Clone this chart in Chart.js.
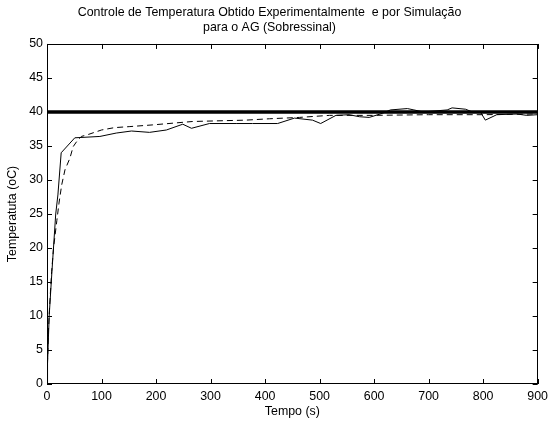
<!DOCTYPE html>
<html>
<head>
<meta charset="utf-8">
<script src="https://cdn.jsdelivr.net/npm/chart.js@4"></script>
<style>
  body { margin: 0; background: #fff; }
  #wrap { width: 553px; height: 425px; }
</style>
</head>
<body>
<div id="wrap"><canvas id="temp-chart"></canvas></div>
<script>
// Experimental (solid)
const expTime = [0, 1, 4, 9, 16, 20, 26, 51, 97, 127, 155, 188, 219, 249, 265, 298, 347, 377, 423, 454, 487, 502, 530, 554, 573, 591, 615, 630, 661, 673, 690, 734, 743, 768, 780, 795, 804, 825, 862, 880, 900];
const expTemp = [0, 3, 10, 16.5, 25, 27.8, 34, 36.2, 36.4, 36.9, 37.2, 37.0, 37.35, 38.2, 37.6, 38.3, 38.3, 38.3, 38.3, 39.1, 38.8, 38.3, 39.5, 39.6, 39.3, 39.2, 39.8, 40.3, 40.5, 40.3, 40.0, 40.3, 40.6, 40.4, 40.0, 40.0, 38.8, 39.6, 39.7, 39.5, 39.6];

// Simulation (dashed)
const simTime = [0, 1, 2.5, 4.5, 8.5, 12, 18, 22, 27, 33, 42, 48, 54, 63, 76, 100, 124, 152, 194, 267, 365, 408, 463, 518, 597, 700, 800, 900];
const simTemp = [0, 3.5, 7.5, 11, 16.5, 20, 24, 26.6, 29.3, 31.5, 33.2, 34.9, 35.6, 36.4, 36.7, 37.35, 37.7, 37.85, 38.1, 38.6, 38.8, 39.0, 39.2, 39.5, 39.5, 39.6, 39.6, 39.7];

// Setpoint
const refTime = [0, 900];
const refTemp = [40, 40];

const toPoints = (xs, ys) => xs.map((x, i) => ({ x, y: ys[i] }));

Chart.defaults.font.family = "'Liberation Sans', Arial, sans-serif";
Chart.defaults.font.size = 12.4;
Chart.defaults.color = '#000';

// moldura e marcas para dentro (estilo MATLAB)
const frame = {
  id: 'frame',
  afterDatasetsDraw(chart) {
    const { ctx, chartArea: a, scales: { x, y } } = chart;
    const len = 5;
    ctx.save();
    ctx.strokeStyle = '#000';
    ctx.lineWidth = 1;
    ctx.beginPath();
    x.ticks.forEach((t) => {
      const px = Math.round(x.getPixelForValue(t.value)) + 0.5;
      ctx.moveTo(px, a.bottom); ctx.lineTo(px, a.bottom - len);
      ctx.moveTo(px, a.top); ctx.lineTo(px, a.top + len);
    });
    y.ticks.forEach((t) => {
      const py = Math.round(y.getPixelForValue(t.value)) + 0.5;
      ctx.moveTo(a.left, py); ctx.lineTo(a.left + len, py);
      ctx.moveTo(a.right, py); ctx.lineTo(a.right - len, py);
    });
    ctx.stroke();
    ctx.strokeRect(Math.round(a.left) + 0.5, Math.round(a.top) + 0.5, Math.round(a.width) - 1, Math.round(a.height) - 1);
    ctx.restore();
  }
};

const ctx = document.getElementById('temp-chart').getContext('2d');
new Chart(ctx, {
  type: 'line',
  data: {
    datasets: [
      {
        label: 'Experimental',
        data: toPoints(expTime, expTemp),
        borderColor: '#000',
        borderWidth: 1,
        pointRadius: 0,
        tension: 0
      },
      {
        label: 'Simulação',
        data: toPoints(simTime, simTemp),
        borderColor: '#000',
        borderWidth: 1,
        borderDash: [6, 4],
        pointRadius: 0,
        tension: 0
      },
      {
        label: 'Referência',
        data: toPoints(refTime, refTemp),
        borderColor: '#000',
        borderWidth: 3.5,
        pointRadius: 0,
        tension: 0
      }
    ]
  },
  options: {
    responsive: true,
    maintainAspectRatio: false,
    animation: false,
    layout: { padding: { left: 0, right: 14, top: 0, bottom: 0 } },
    plugins: {
      legend: { display: false },
      tooltip: { enabled: false },
      title: {
        display: true,
        text: ['Controle de Temperatura Obtido Experimentalmente  e por Simulação', 'para o AG (Sobressinal)'],
        font: { size: 12.4, weight: 'normal' },
        color: '#000',
        padding: { top: 5.6, bottom: 8.6 }
      }
    },
    scales: {
      x: {
        type: 'linear',
        min: 0,
        max: 900,
        ticks: { stepSize: 100, padding: 5, maxRotation: 0 },
        grid: { display: false, drawTicks: false },
        border: { display: false },
        title: { display: true, text: 'Tempo (s)', padding: { top: 0, bottom: 5.5 } },
        afterFit: (scale) => { scale.height = 41; }
      },
      y: {
        min: 0,
        max: 50,
        ticks: { stepSize: 5, padding: 4 },
        grid: { display: false, drawTicks: false },
        border: { display: false },
        title: { display: true, text: 'Temperatuta (oC)', padding: { top: 5.6, bottom: 0 } },
        afterFit: (scale) => { scale.width = 47; }
      }
    }
  },
  plugins: [frame]
});
</script>
</body>
</html>
